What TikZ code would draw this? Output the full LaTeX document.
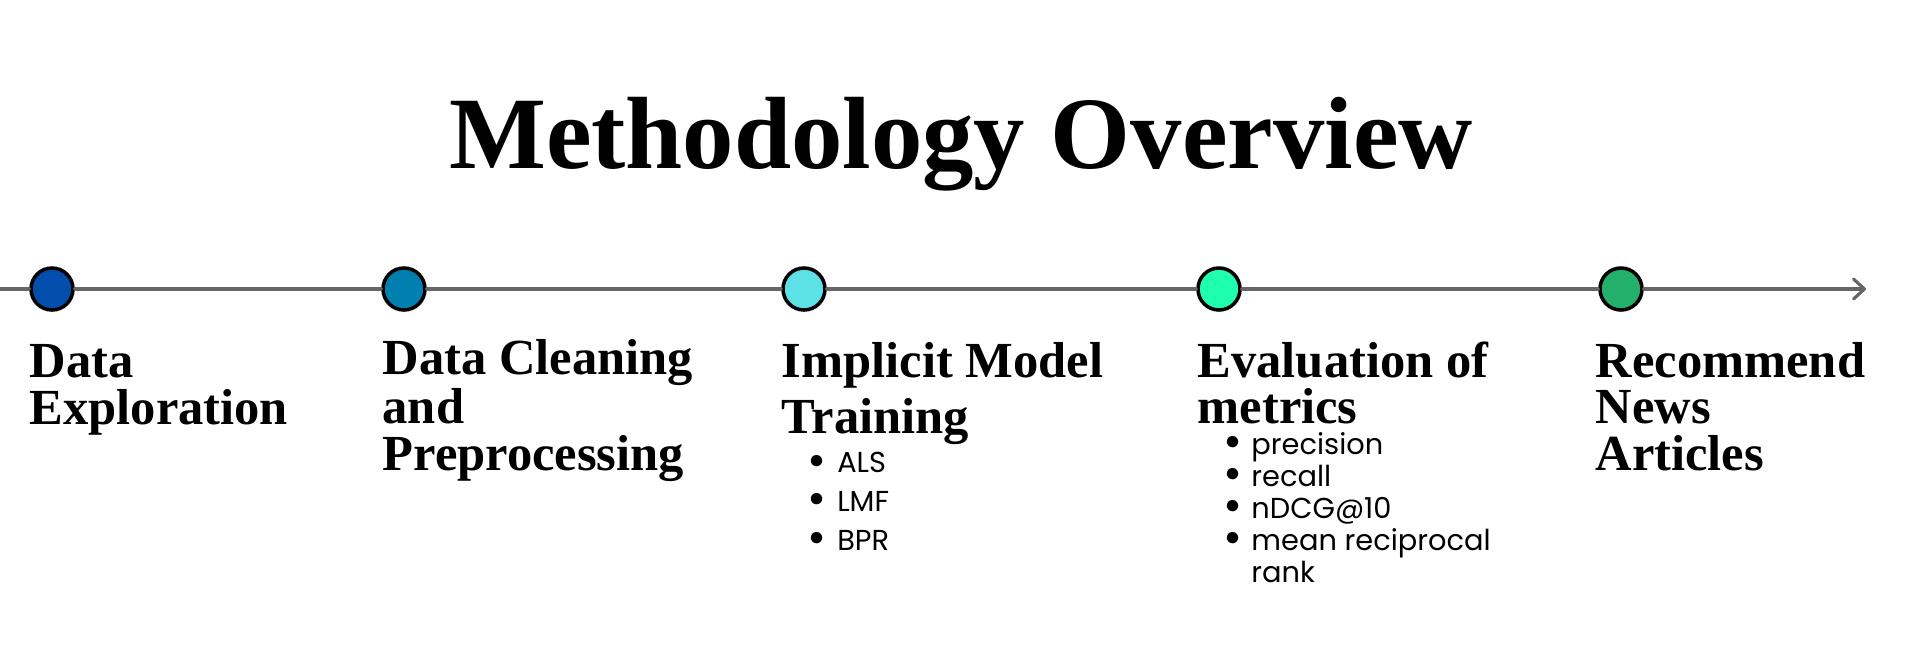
\documentclass[tikz,border=0pt]{standalone}
\usepackage{fontspec}
\setmainfont{Liberation Serif}
\newfontfamily\listfont{Poppins}
\usetikzlibrary{arrows.meta}

\definecolor{axisgray}{HTML}{666666}
\definecolor{stepA}{HTML}{034DAC}
\definecolor{stepB}{HTML}{0180AF}
\definecolor{stepC}{HTML}{5CE1E6}
\definecolor{stepD}{HTML}{1EFFB0}
\definecolor{stepE}{HTML}{22B06A}

\tikzset{
  milestone/.style={circle, draw=black, line width=1pt, inner sep=0pt, minimum size=0.42cm},
  axisline/.style={draw=axisgray, line width=0.9pt, line cap=round, line join=round},
  % multi-line nodes: the base anchor sits on the last line
  heading/.style={anchor=base west, inner sep=0pt, align=left,
    font=\bfseries\fontsize{14.37}{13.1}\selectfont},
  bulletlist/.style={anchor=base west, inner sep=0pt, align=left,
    font=\listfont\fontsize{8.2}{9.1}\selectfont},
  titletext/.style={anchor=base, inner sep=0pt, font=\bfseries\fontsize{29.2}{35}\selectfont}
}

% enlarged list bullet in a box of the given width
\newcommand{\itembullet}[1]{\makebox[#1][l]{\smash{\raisebox{-0.22ex}{\scalebox{1.6}{\textbullet}}}}}

\begin{document}
\begin{tikzpicture}[x=0.01cm, y=-0.01cm]
  \useasboundingbox (0,0) rectangle (1920,645);

  % title
  \node[titletext] (title) at (961,168) {Methodology Overview};

  % timeline milestones
  \node[milestone, fill=stepA] (m1) at (52,289) {};
  \node[milestone, fill=stepB] (m2) at (404,289) {};
  \node[milestone, fill=stepC] (m3) at (804,289) {};
  \node[milestone, fill=stepD] (m4) at (1219,289) {};
  \node[milestone, fill=stepE] (m5) at (1621,289) {};

  \coordinate (axisstart) at (0,289);
  \coordinate (axisend) at (1866,289);

  % timeline axis
  \draw[axisline] (axisstart) -- (m1);
  \draw[axisline] (m1) -- (m2);
  \draw[axisline] (m2) -- (m3);
  \draw[axisline] (m3) -- (m4);
  \draw[axisline] (m4) -- (m5);
  \draw[axisline, -{Straight Barb[length=3.1pt, width=5.7pt, line cap=round, line join=round]}] (m5) -- (axisend);

  % step headings (positioned by the baseline of their last line)
  \node[heading] (h1) at (29,424) {Data\\Exploration};
  \node[heading] (h2) at (382,470) {Data Cleaning\\and\\Preprocessing};
  \node[heading, font=\bfseries\fontsize{14.37}{15.9}\selectfont] (h3) at (781,433) {Implicit Model\\Training};
  \node[heading, font=\bfseries\fontsize{14.37}{12.8}\selectfont] (h4) at (1197,423) {Evaluation of\\metrics};
  \node[heading] (h5) at (1595,470) {Recommend\\News\\Articles};

  % sub-items
  \node[bulletlist, font=\listfont\fontsize{8.2}{10.95}\selectfont] (l3) at (807,550)
    {\itembullet{8.4pt}ALS\\\itembullet{8.4pt}LMF\\\itembullet{8.4pt}BPR};
  \node[bulletlist] (l4) at (1223,582)
    {\itembullet{7.9pt}precision\\\itembullet{7.9pt}recall\\\itembullet{7.9pt}nDCG@10\\
     \itembullet{7.9pt}mean reciprocal\\\hspace*{7.9pt}rank};
\end{tikzpicture}
\end{document}
